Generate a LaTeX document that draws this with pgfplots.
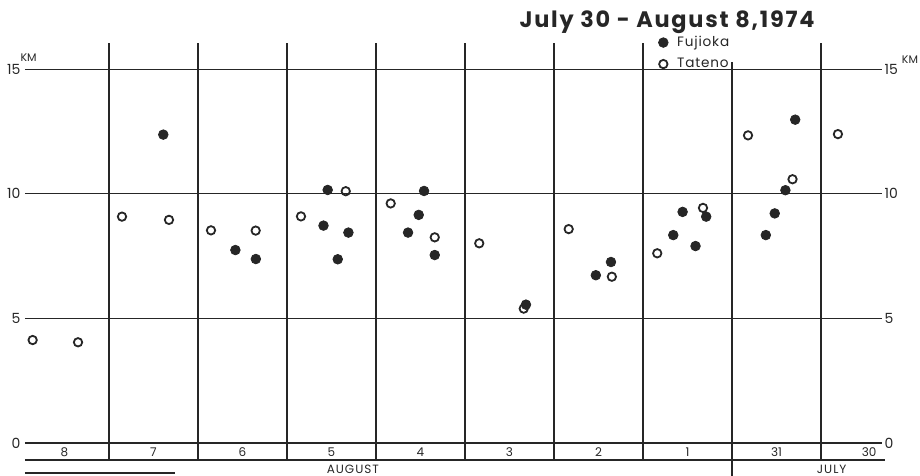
\documentclass[border=0pt]{standalone}
\usepackage{pgfplots}
\pgfplotsset{compat=1.18}
\usepackage{fontspec}
\setmainfont{Poppins}
\definecolor{ink}{gray}{0.15}
\tikzset{lbl/.style={inner sep=0pt, text=ink}}
\begin{document}
\begin{tikzpicture}
\useasboundingbox (0,0) rectangle (460pt,238pt);
\begin{axis}[
  at={(10pt,1.542pt)}, anchor=south west,
  scale only axis, width=445pt, height=226.86pt,
  xmin=0, xmax=10, ymin=-1.2, ymax=17,
  hide axis, clip=false,
  legend style={at={(axis cs:7.17,15.64)}, anchor=west, draw=none, fill=none,
    font=\fontsize{6.8}{6.8}\selectfont\addfontfeatures{LetterSpace=6}, inner sep=0pt, row sep=0.3pt,
    column sep=2.5pt, text=ink, cells={anchor=west}},
  legend image code/.code={\draw[#1] plot coordinates {(0pt,0pt)};},
]
% grid
\draw[ink, line width=0.55pt] (axis cs:0.056,15) -- (axis cs:9.685,15);
\draw[ink, line width=0.55pt] (axis cs:0.056,10) -- (axis cs:9.685,10);
\draw[ink, line width=0.55pt] (axis cs:0.056,5) -- (axis cs:9.685,5);
\draw[ink, line width=0.55pt] (axis cs:0.056,0) -- (axis cs:9.685,0);
\draw[ink, line width=0.55pt] (axis cs:0.056,-0.68) -- (axis cs:9.72,-0.68);
\pgfplotsinvokeforeach{1,2,3,4,5,6,7,9}{
  \draw[ink, line width=0.55pt] (axis cs:#1,-0.68) -- (axis cs:#1,16.04);
}
\draw[ink, line width=0.55pt] (axis cs:8,-1.32) -- (axis cs:8,15.28);
\draw[ink, line width=1pt] (axis cs:0.056,-1.2) -- (axis cs:1.74,-1.2);
% y labels
\pgfplotsinvokeforeach{0,5,10,15}{
  \node[lbl, anchor=east, font=\fontsize{7}{7}\selectfont] at (axis cs:0.01,#1) {#1};
  \node[lbl, anchor=west, font=\fontsize{7}{7}\selectfont] at (axis cs:9.71,#1) {#1};
}
\node[lbl, font=\fontsize{5.5}{5.5}\selectfont] at (axis cs:0.096,15.44) {KM};
\node[lbl, font=\fontsize{5.5}{5.5}\selectfont] at (axis cs:10.0,15.36) {KM};
% day labels
\node[lbl, font=\fontsize{6}{6}\selectfont] at (axis cs:0.5,-0.36) {8};
\node[lbl, font=\fontsize{6}{6}\selectfont] at (axis cs:1.5,-0.36) {7};
\node[lbl, font=\fontsize{6}{6}\selectfont] at (axis cs:2.5,-0.36) {6};
\node[lbl, font=\fontsize{6}{6}\selectfont] at (axis cs:3.5,-0.36) {5};
\node[lbl, font=\fontsize{6}{6}\selectfont] at (axis cs:4.5,-0.36) {4};
\node[lbl, font=\fontsize{6}{6}\selectfont] at (axis cs:5.5,-0.36) {3};
\node[lbl, font=\fontsize{6}{6}\selectfont] at (axis cs:6.5,-0.36) {2};
\node[lbl, font=\fontsize{6}{6}\selectfont] at (axis cs:7.5,-0.36) {1};
\node[lbl, font=\fontsize{6}{6}\selectfont] at (axis cs:8.5,-0.36) {31};
\node[lbl, font=\fontsize{6}{6}\selectfont] at (axis cs:9.54,-0.36) {30};
\node[lbl, font=\fontsize{6}{6}\selectfont\addfontfeatures{LetterSpace=8}] at (axis cs:3.74,-1.07) {AUGUST};
\node[lbl, font=\fontsize{6}{6}\selectfont\addfontfeatures{LetterSpace=8}] at (axis cs:9.12,-1.07) {JULY};
% title
\node[lbl, font=\fontsize{11.2}{11.2}\selectfont\bfseries\addfontfeatures{LetterSpace=8}] at (axis cs:7.27,16.86) {July 30 - August 8,1974};
% data
\addplot[only marks, mark=*, mark size=2.4pt, ink, mark options={fill=ink}] table {
u y
1.61 12.37
2.42 7.74
2.65 7.38
3.41 8.72
3.69 8.44
3.457 10.15
3.57 7.37
4.54 10.11
4.48 9.15
4.36 8.44
4.66 7.54
5.685 5.55
6.64 7.26
6.47 6.73
7.445 9.27
7.71 9.08
7.34 8.34
7.59 7.90
8.71 12.97
8.60 10.14
8.48 9.21
8.38 8.34
};
\addlegendentry{Fujioka}
\addplot[only marks, mark=o, mark size=2.1pt, ink, line width=0.9pt] table {
u y
0.142 4.13
0.652 4.04
1.146 9.08
1.674 8.95
2.146 8.53
2.648 8.52
3.157 9.09
3.66 10.10
4.165 9.61
4.66 8.25
5.16 8.01
5.66 5.39
6.165 8.58
6.65 6.67
7.16 7.61
7.674 9.43
8.18 12.34
8.68 10.58
9.19 12.39
};
\addlegendentry{Tateno}
\end{axis}
\end{tikzpicture}
\end{document}
